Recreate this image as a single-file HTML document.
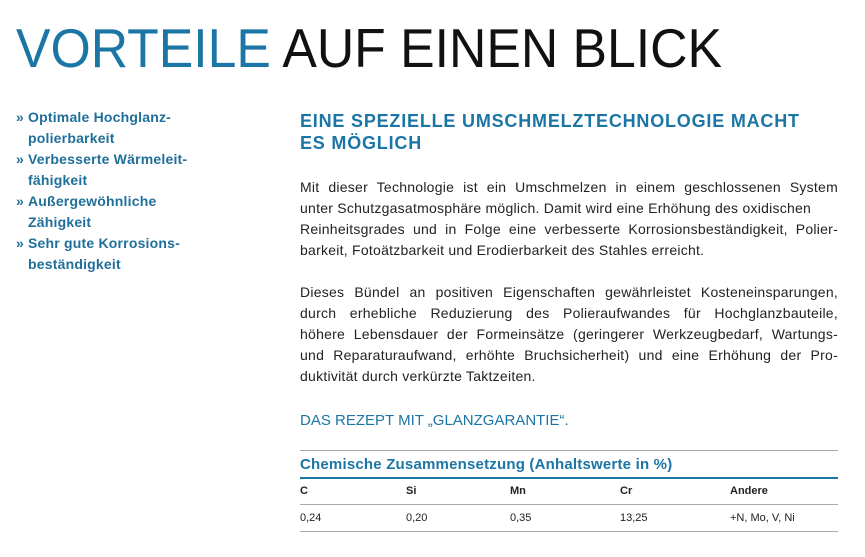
<!DOCTYPE html>
<html><head><meta charset="utf-8"><style>
body{margin:0;width:865px;height:557px;background:#fff;font-family:"Liberation Sans",sans-serif;position:relative;overflow:hidden}
.a{position:absolute;white-space:nowrap}
.l{position:absolute;left:28px;color:#1f6f9a;font-size:14px;font-weight:bold;letter-spacing:0.2px}
.r{position:absolute;left:300px;width:538px;font-size:14px;color:#222;text-align:justify;text-align-last:justify;white-space:nowrap;letter-spacing:0.25px}
.r.n{text-align-last:left}
.t{position:absolute;font-size:11px;color:#222}
.hl{position:absolute;left:300px;width:538px;height:1px;background:#aaa}
</style></head><body>
<svg class="a" style="left:0;top:0" width="865" height="80"><text x="16" y="67" font-family="Liberation Sans" font-size="55" textLength="706" lengthAdjust="spacingAndGlyphs"><tspan fill="#1b75a5">VORTEILE</tspan><tspan fill="#111"> AUF EINEN BLICK</tspan></text></svg>
<div class="a" style="left:16px;top:109px;color:#1f6f9a;font-size:14px;font-weight:bold">»</div>
<div class="a" style="left:16px;top:151px;color:#1f6f9a;font-size:14px;font-weight:bold">»</div>
<div class="a" style="left:16px;top:193px;color:#1f6f9a;font-size:14px;font-weight:bold">»</div>
<div class="a" style="left:16px;top:235px;color:#1f6f9a;font-size:14px;font-weight:bold">»</div>
<div class="l" style="top:109px">Optimale Hochglanz-</div>
<div class="l" style="top:130px">polierbarkeit</div>
<div class="l" style="top:151px">Verbesserte Wärmeleit-</div>
<div class="l" style="top:172px">fähigkeit</div>
<div class="l" style="top:193px">Außergewöhnliche</div>
<div class="l" style="top:214px">Zähigkeit</div>
<div class="l" style="top:235px">Sehr gute Korrosions-</div>
<div class="l" style="top:256px">beständigkeit</div>
<div class="a" style="left:300px;top:110px;font-size:18px;font-weight:bold;color:#1b75a5;line-height:22px;letter-spacing:0.8px">EINE SPEZIELLE UMSCHMELZTECHNOLOGIE MACHT<br>ES MÖGLICH</div>
<div class="r" style="top:179px">Mit dieser Technologie ist ein Umschmelzen in einem geschlossenen System</div>
<div class="r n" style="top:200px">unter Schutzgasatmosphäre möglich. Damit wird eine Erhöhung des oxidischen</div>
<div class="r" style="top:221px">Reinheitsgrades und in Folge eine verbesserte Korrosionsbeständigkeit, Polier-</div>
<div class="r n" style="top:242px">barkeit, Fotoätzbarkeit und Erodierbarkeit des Stahles erreicht.</div>
<div class="r" style="top:284px">Dieses Bündel an positiven Eigenschaften gewährleistet Kosteneinsparungen,</div>
<div class="r" style="top:305px">durch erhebliche Reduzierung des Polieraufwandes für Hochglanzbauteile,</div>
<div class="r" style="top:326px">höhere Lebensdauer der Formeinsätze (geringerer Werkzeugbedarf, Wartungs-</div>
<div class="r" style="top:347px">und Reparaturaufwand, erhöhte Bruchsicherheit) und eine Erhöhung der Pro-</div>
<div class="r n" style="top:368px">duktivität durch verkürzte Taktzeiten.</div>
<div class="a" style="left:300px;top:412px;font-size:15px;color:#1b75a5">DAS REZEPT MIT „GLANZGARANTIE“.</div>
<div class="hl" style="top:450px"></div>
<div class="a" style="left:300px;top:456px;font-size:15px;font-weight:bold;color:#1b75a5;letter-spacing:0.2px">Chemische Zusammensetzung (Anhaltswerte in %)</div>
<div class="hl" style="top:477px;height:2px;background:#1b75a5"></div>
<div class="t" style="left:300px;top:485px;font-weight:bold">C</div>
<div class="t" style="left:406px;top:485px;font-weight:bold">Si</div>
<div class="t" style="left:510px;top:485px;font-weight:bold">Mn</div>
<div class="t" style="left:620px;top:485px;font-weight:bold">Cr</div>
<div class="t" style="left:730px;top:485px;font-weight:bold">Andere</div>
<div class="hl" style="top:504px"></div>
<div class="t" style="left:300px;top:512px">0,24</div>
<div class="t" style="left:406px;top:512px">0,20</div>
<div class="t" style="left:510px;top:512px">0,35</div>
<div class="t" style="left:620px;top:512px">13,25</div>
<div class="t" style="left:730px;top:512px">+N, Mo, V, Ni</div>
<div class="hl" style="top:531px"></div>
</body></html>
